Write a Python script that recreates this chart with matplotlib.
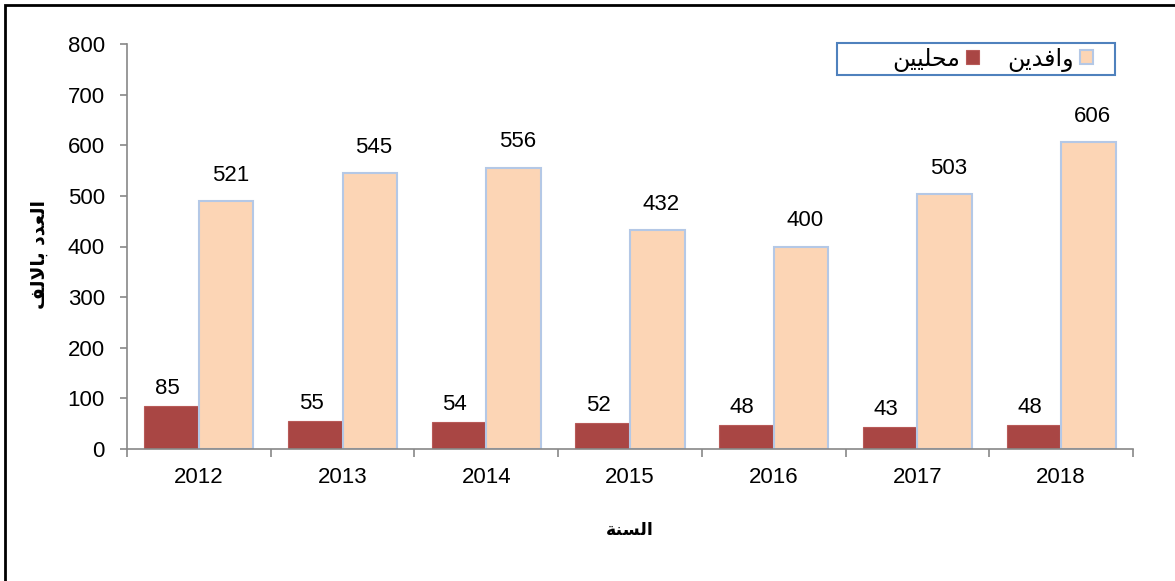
import matplotlib.pyplot as plt
from matplotlib.patches import Rectangle
import numpy as np

years = ["2012", "2013", "2014", "2015", "2016", "2017", "2018"]
# محليين (locals) and وافدين (expatriates), thousands
local_vals = [85, 55, 54, 52, 48, 43, 48]
expat_vals = [490, 545, 556, 432, 400, 503, 606]
local_labels = ["85", "55", "54", "52", "48", "43", "48"]
expat_labels = ["521", "545", "556", "432", "400", "503", "606"]

# Arabic strings in presentation forms, visual (left-to-right) order
lbl_local = "\uFEE6\uFEF4\uFEF4\uFEE0\uFEA4\uFEE3"           # محليين
lbl_expat = "\uFEE6\uFEF3\uFEAA\uFED3\uFE8D\uFEED"           # وافدين
xlabel = "\uFE94\uFEE8\uFEB4\uFEDF\uFE8D"                     # السنة
ylabel = "\uFED2\uFEDF\uFEFB\uFE8E\uFE91 \uFEA9\uFEAA\uFECC\uFEDF\uFE8D"  # العدد بالالف

num_font = "Liberation Sans"
red = "#A94644"
peach = "#FCD5B5"

fig = plt.figure(figsize=(11.75, 5.81), dpi=100)
ax = fig.add_axes([127/1175, 1 - 449/581, (1133 - 127)/1175, (449 - 44)/581])

x = np.arange(len(years))
w = 0.38
b1 = ax.bar(x - w/2, local_vals, w, color=red, edgecolor="#B85a58", linewidth=0.8, label=lbl_local)
b2 = ax.bar(x + w/2, expat_vals, w, color=peach, edgecolor="#B4C8E6", linewidth=1.5, label=lbl_expat)

for xi, v, t in zip(x, local_vals, local_labels):
    ax.annotate(t, (xi - w/2, v), xytext=(-3, 5), textcoords="offset points",
                ha="center", va="bottom", fontsize=16, family=num_font)
for xi, v, t in zip(x, expat_vals, expat_labels):
    ax.annotate(t, (xi + w/2, v), xytext=(3, 11), textcoords="offset points",
                ha="center", va="bottom", fontsize=16, family=num_font)

ax.set_xlim(-0.5, len(years) - 0.5)
ax.set_ylim(0, 800)
ax.set_yticks(range(0, 801, 100))
ax.set_yticklabels([str(v) for v in range(0, 801, 100)], family=num_font, fontsize=16)
ax.set_xticks(x)
ax.set_xticklabels(years, family=num_font, fontsize=16)
ax.set_xticks(np.arange(-0.5, len(years)), minor=True)
ax.tick_params(axis="x", which="major", length=0, pad=13)
ax.tick_params(axis="x", which="minor", length=6, color="#888888", width=1.2)
ax.tick_params(axis="y", length=5, color="#888888", width=1.2, pad=11)

for s in ["top", "right"]:
    ax.spines[s].set_visible(False)
for s in ["left", "bottom"]:
    ax.spines[s].set_color("#888888")
    ax.spines[s].set_linewidth(1.2)

ax.set_xlabel(xlabel, family="DejaVu Sans", fontweight="bold", fontsize=12.5, labelpad=24)
ax.set_ylabel(ylabel, family="DejaVu Sans", fontweight="bold", fontsize=13.5)
ax.yaxis.set_label_coords(-0.078, 0.48)

# legend box, as wide as in the original
box = Rectangle((837/1175, 1 - 75/581), (1115 - 837)/1175, 32/581,
                transform=fig.transFigure, facecolor="white",
                edgecolor="#4F81BD", linewidth=1.5, zorder=4, clip_on=False)
ax.add_artist(box)

leg = ax.legend(handles=[b1, b2], ncol=2, markerfirst=False, loc="center right",
                bbox_to_anchor=(1093/1175, 1 - 59/581), bbox_transform=fig.transFigure,
                frameon=False, prop={"family": "DejaVu Sans", "size": 17},
                handlelength=0.55, handleheight=0.55, columnspacing=1.2,
                handletextpad=0.25, borderpad=0, borderaxespad=0)
leg.set_zorder(5)

# outer frame of the original chart object
fig.patches.append(Rectangle((5/1175, -0.1), 1.2, 1.1 - 5/581, transform=fig.transFigure,
                             fill=False, edgecolor="black", linewidth=2))

fig.savefig("out.png", dpi=100)
